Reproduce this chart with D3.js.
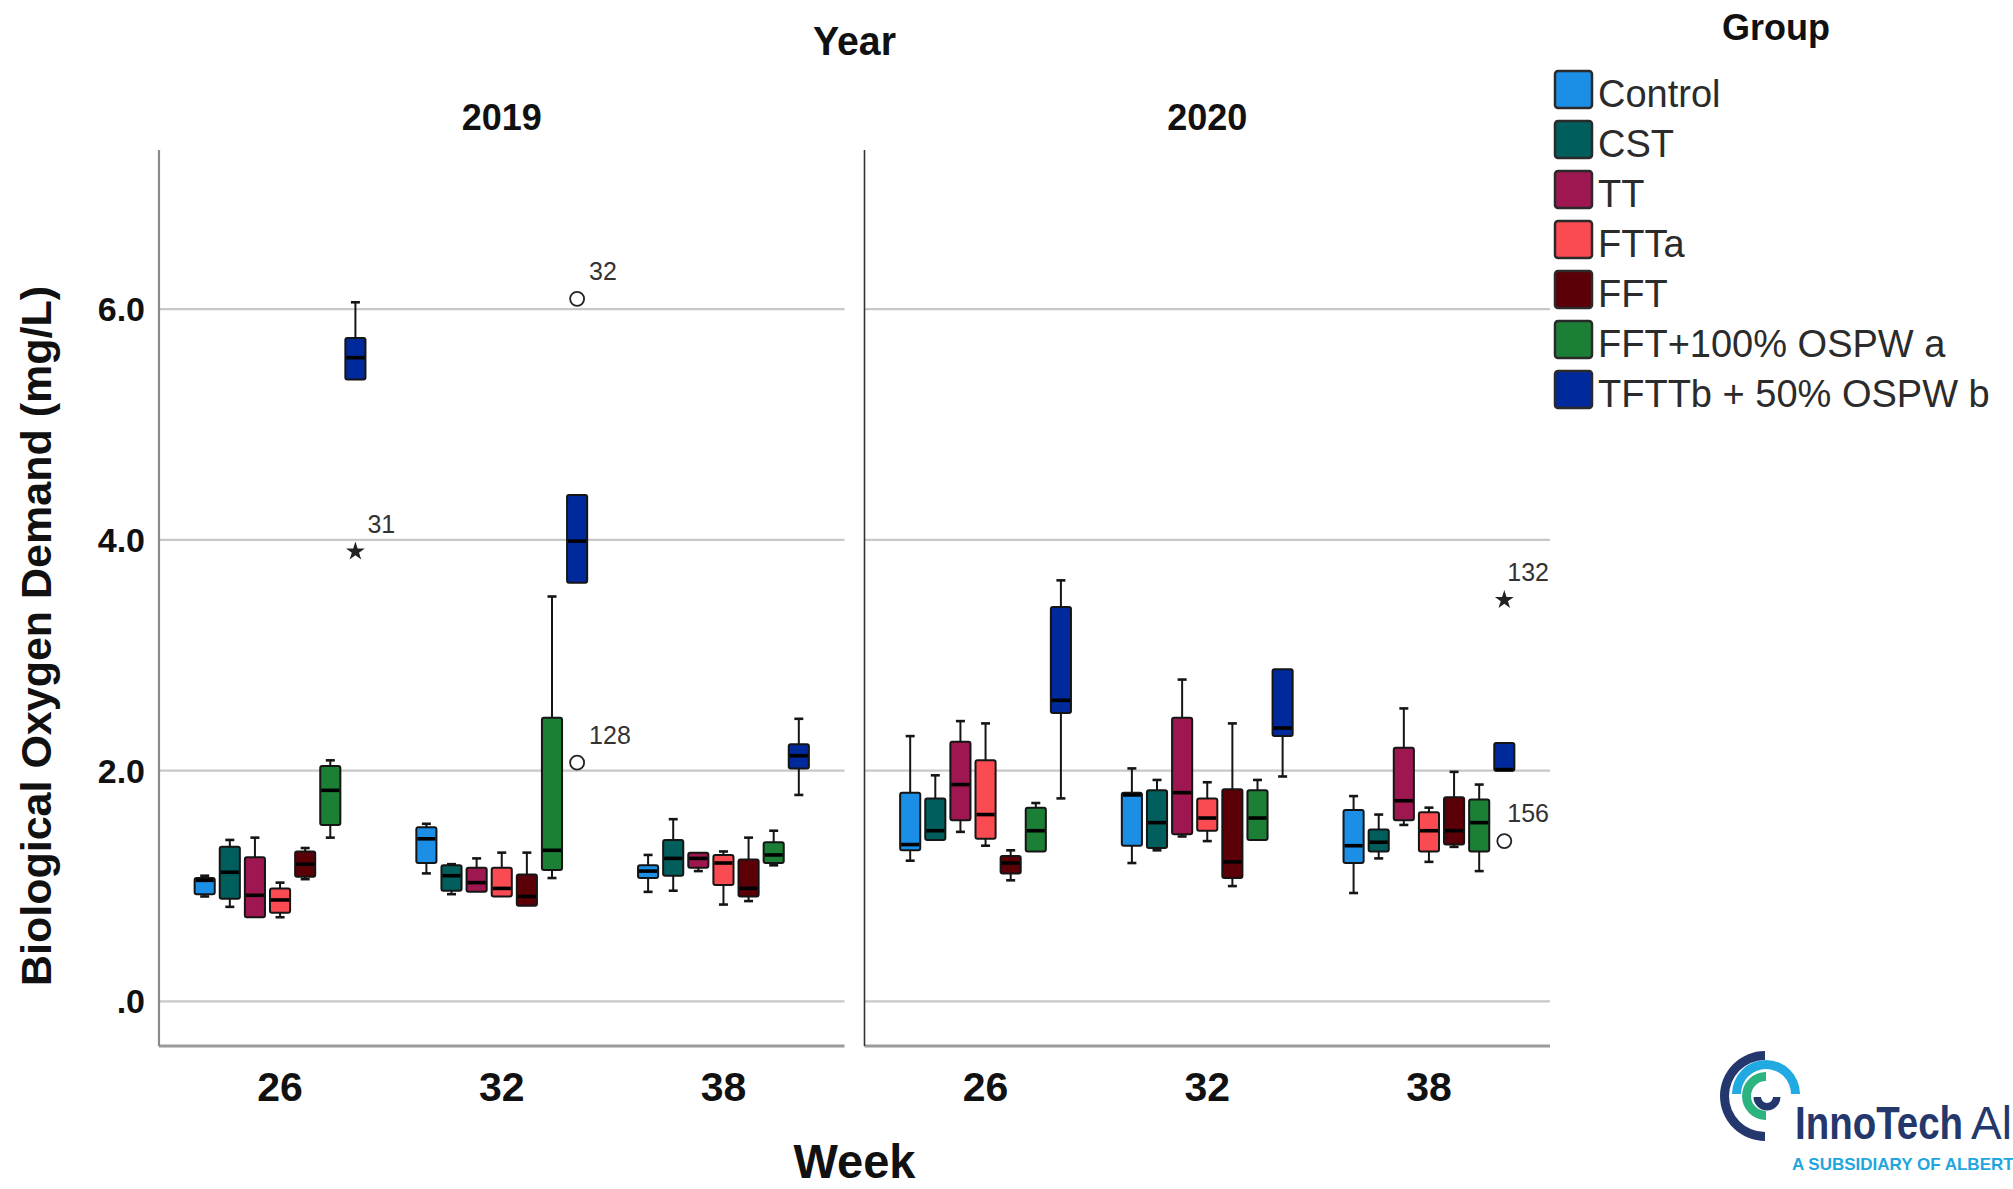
<!DOCTYPE html>
<html>
<head>
<meta charset="utf-8">
<script src="https://cdn.jsdelivr.net/npm/d3@7"></script>
<style>
  html, body { margin: 0; padding: 0; background: #fff; }
  svg { display: block; }
  text { font-family: "Liberation Sans", Arial, sans-serif; }
</style>
</head>
<body>
<svg id="chart" width="2013" height="1189"></svg>
<script>
// ---- data -------------------------------------------------------------
const years = ["2019", "2020"];
const weeks = ["26", "32", "38"];
const groups = ["Control", "CST", "TT", "FTTa", "FFT", "FFT+100% OSPW a", "TFTTb + 50% OSPW b"];
const groupColors = ["#1b8ee6", "#005f5c", "#9e1750", "#fa4a52", "#5c0008", "#1c7f36", "#002a9c"];
const yTicks = [0, 2, 4, 6];
const yTickLabels = [".0", "2.0", "4.0", "6.0"];

// BOD box statistics [low whisker, Q1, median, Q3, high whisker]
// order: 2019 wk26, 2019 wk32, 2019 wk38, 2020 wk26, 2020 wk32, 2020 wk38
const control = [
  [0.91, 0.93, 1.05, 1.07, 1.09], [1.11, 1.20, 1.41, 1.51, 1.54], [0.95, 1.07, 1.13, 1.18, 1.27],
  [1.22, 1.31, 1.36, 1.81, 2.30], [1.20, 1.35, 1.79, 1.81, 2.02], [0.94, 1.20, 1.35, 1.66, 1.78]
];
const cst = [
  [0.82, 0.89, 1.12, 1.34, 1.40], [0.93, 0.96, 1.09, 1.18, 1.19], [0.96, 1.09, 1.24, 1.40, 1.58],
  [1.40, 1.40, 1.48, 1.76, 1.96], [1.31, 1.33, 1.55, 1.83, 1.92], [1.24, 1.30, 1.38, 1.49, 1.62]
];
const tt = [
  [0.73, 0.73, 0.92, 1.25, 1.42], [0.95, 0.95, 1.03, 1.16, 1.24], [1.13, 1.16, 1.24, 1.29, 1.29],
  [1.47, 1.57, 1.88, 2.25, 2.43], [1.43, 1.45, 1.81, 2.46, 2.79], [1.53, 1.57, 1.74, 2.20, 2.54]
];
const ftta = [
  [0.73, 0.77, 0.88, 0.98, 1.03], [0.91, 0.91, 0.98, 1.16, 1.29], [0.84, 1.01, 1.20, 1.27, 1.30],
  [1.35, 1.41, 1.62, 2.09, 2.41], [1.39, 1.48, 1.59, 1.76, 1.90], [1.21, 1.30, 1.48, 1.64, 1.68]
];
const fft = [
  [1.06, 1.08, 1.19, 1.30, 1.33], [0.83, 0.83, 0.91, 1.10, 1.29], [0.87, 0.91, 0.98, 1.23, 1.42],
  [1.05, 1.11, 1.20, 1.26, 1.31], [1.00, 1.07, 1.21, 1.84, 2.41], [1.34, 1.36, 1.48, 1.77, 1.99]
];
const fftOspw100 = [
  [1.42, 1.53, 1.83, 2.04, 2.09], [1.07, 1.14, 1.31, 2.46, 3.51], [1.18, 1.20, 1.27, 1.38, 1.48],
  [1.30, 1.30, 1.48, 1.68, 1.72], [1.40, 1.40, 1.59, 1.83, 1.92], [1.13, 1.30, 1.55, 1.75, 1.88]
];
const tfttOspw50 = [
  [5.39, 5.39, 5.58, 5.75, 6.06], [3.63, 3.63, 3.99, 4.39, 4.39], [1.79, 2.02, 2.13, 2.23, 2.45],
  [1.76, 2.50, 2.61, 3.42, 3.65], [1.95, 2.30, 2.37, 2.88, 2.88], [2.00, 2.00, 2.01, 2.24, 2.24]
];
const seriesStats = [control, cst, tt, ftta, fft, fftOspw100, tfttOspw50];

// flagged cases: kind "o" = outlier, "*" = extreme
const outliers = [
  { year: "2019", week: "26", group: "TFTTb + 50% OSPW b", value: 3.90, kind: "*", id: "31" },
  { year: "2019", week: "32", group: "TFTTb + 50% OSPW b", value: 6.09, kind: "o", id: "32" },
  { year: "2019", week: "32", group: "TFTTb + 50% OSPW b", value: 2.07, kind: "o", id: "128" },
  { year: "2020", week: "38", group: "TFTTb + 50% OSPW b", value: 3.48, kind: "*", id: "132" },
  { year: "2020", week: "38", group: "TFTTb + 50% OSPW b", value: 1.39, kind: "o", id: "156" }
];

// ---- layout -----------------------------------------------------------
const svg = d3.select("#chart");
const plotTop = 150, plotBottom = 1046, plotLeft = 159, plotRight = 1550;

const y = d3.scaleLinear().domain([-0.386, 7.38]).range([plotBottom, plotTop]);
const xPanel = d3.scaleBand().domain(years).range([plotLeft, plotRight]).paddingInner(0.02835).paddingOuter(0);
const xWeek = d3.scaleBand().domain(weeks).range([0, xPanel.bandwidth()]).paddingInner(0).paddingOuter(0.046);
const xGroup = d3.scaleBand().domain(groups).range([0, xWeek.bandwidth()]).paddingInner(0.2).paddingOuter(1.0125);
const color = d3.scaleOrdinal().domain(groups).range(groupColors);

const boxes = [];
groups.forEach((g, gi) => {
  years.forEach((yr, yi) => {
    weeks.forEach((wk, wi) => {
      const s = seriesStats[gi][yi * weeks.length + wi];
      boxes.push({ group: g, year: yr, week: wk, lo: s[0], q1: s[1], med: s[2], q3: s[3], hi: s[4] });
    });
  });
});
const boxX = d => xPanel(d.year) + xWeek(d.week) + xGroup(d.group);

// ---- panels -----------------------------------------------------------
const panels = svg.append("g").selectAll("g").data(years).join("g");

panels.each(function (yr) {
  const x0 = xPanel(yr), x1 = x0 + xPanel.bandwidth();
  const p = d3.select(this);
  // gridlines
  p.selectAll("line.grid").data(yTicks).join("line")
    .attr("x1", x0).attr("x2", x1)
    .attr("y1", d => y(d)).attr("y2", d => y(d))
    .attr("stroke", "#c8c8c8").attr("stroke-width", 2.2);
  // bottom frame
  p.append("line")
    .attr("x1", x0).attr("x2", x1).attr("y1", plotBottom).attr("y2", plotBottom)
    .attr("stroke", "#9a9a9a").attr("stroke-width", 3);
  // left frame
  p.append("line")
    .attr("x1", x0).attr("x2", x0).attr("y1", plotTop).attr("y2", plotBottom)
    .attr("stroke", yr === years[0] ? "#8a8a8a" : "#333").attr("stroke-width", yr === years[0] ? 2.2 : 1.6);
  // year heading
  p.append("text")
    .attr("x", x0 + xPanel.bandwidth() / 2).attr("y", 130)
    .attr("text-anchor", "middle").attr("font-size", 36).attr("font-weight", "bold")
    .attr("fill", "#111").text(yr);
  // week ticks
  p.selectAll("text.week").data(weeks).join("text")
    .attr("class", "week")
    .attr("x", d => x0 + xWeek(d) + xWeek.bandwidth() / 2).attr("y", 1101)
    .attr("text-anchor", "middle").attr("font-size", 41).attr("font-weight", "bold")
    .attr("fill", "#111").text(d => d);
});

// y tick labels
svg.append("g").selectAll("text").data(yTicks).join("text")
  .attr("x", 145).attr("y", d => y(d) + 12)
  .attr("text-anchor", "end").attr("font-size", 34).attr("font-weight", "bold")
  .attr("fill", "#111").text((d, i) => yTickLabels[i]);

// ---- box plots --------------------------------------------------------
const bw = xGroup.bandwidth();
const capW = 9;
const gBox = svg.append("g");

const bx = gBox.selectAll("g").data(boxes).join("g")
  .attr("transform", d => `translate(${boxX(d)},0)`);

// whiskers
bx.filter(d => d.hi - d.q3 > 0.004).each(function (d) {
  const g = d3.select(this);
  g.append("line").attr("x1", bw / 2).attr("x2", bw / 2).attr("y1", y(d.q3)).attr("y2", y(d.hi))
    .attr("stroke", "#151515").attr("stroke-width", 2);
  g.append("line").attr("x1", bw / 2 - capW / 2).attr("x2", bw / 2 + capW / 2).attr("y1", y(d.hi)).attr("y2", y(d.hi))
    .attr("stroke", "#151515").attr("stroke-width", 2.6);
});
bx.filter(d => d.q1 - d.lo > 0.004).each(function (d) {
  const g = d3.select(this);
  g.append("line").attr("x1", bw / 2).attr("x2", bw / 2).attr("y1", y(d.q1)).attr("y2", y(d.lo))
    .attr("stroke", "#151515").attr("stroke-width", 2);
  g.append("line").attr("x1", bw / 2 - capW / 2).attr("x2", bw / 2 + capW / 2).attr("y1", y(d.lo)).attr("y2", y(d.lo))
    .attr("stroke", "#151515").attr("stroke-width", 2.6);
});

// boxes
bx.append("rect")
  .attr("x", 0).attr("width", bw)
  .attr("y", d => y(d.q3)).attr("height", d => Math.max(1, y(d.q1) - y(d.q3)))
  .attr("rx", 2).attr("ry", 2)
  .attr("fill", d => color(d.group))
  .attr("stroke", "#151515").attr("stroke-width", 2);

// medians
bx.append("line")
  .attr("x1", 1).attr("x2", bw - 1)
  .attr("y1", d => y(d.med)).attr("y2", d => y(d.med))
  .attr("stroke", "#000").attr("stroke-width", 3.6);

// ---- outliers ---------------------------------------------------------
const gOut = svg.append("g");
const outX = d => xPanel(d.year) + xWeek(d.week) + xGroup(d.group) + bw / 2;

gOut.selectAll("circle").data(outliers.filter(d => d.kind === "o")).join("circle")
  .attr("cx", outX).attr("cy", d => y(d.value)).attr("r", 7)
  .attr("fill", "none").attr("stroke", "#222").attr("stroke-width", 1.8);

gOut.selectAll("path").data(outliers.filter(d => d.kind === "*")).join("path")
  .attr("transform", d => `translate(${outX(d)},${y(d.value)})`)
  .attr("d", d3.symbol().type(d3.symbolStar).size(110))
  .attr("fill", "#222");

gOut.selectAll("text").data(outliers).join("text")
  .attr("font-size", 25).attr("fill", "#333")
  .attr("y", d => y(d.value) - 19)
  .text(d => d.id)
  .attr("x", function (d) {
    const right = xPanel(d.year) + xPanel.bandwidth();
    const w = this.getComputedTextLength();
    return Math.min(outX(d) + 12, right - w - 1);
  });

// ---- titles -----------------------------------------------------------
svg.append("text")
  .attr("x", (plotLeft + plotRight) / 2).attr("y", 55)
  .attr("text-anchor", "middle").attr("font-size", 40).attr("font-weight", "bold")
  .attr("fill", "#111").attr("textLength", 83).attr("lengthAdjust", "spacingAndGlyphs")
  .text("Year");

svg.append("text")
  .attr("x", (plotLeft + plotRight) / 2).attr("y", 1178)
  .attr("text-anchor", "middle").attr("font-size", 48).attr("font-weight", "bold")
  .attr("fill", "#111").attr("textLength", 122).attr("lengthAdjust", "spacingAndGlyphs")
  .text("Week");

svg.append("text")
  .attr("transform", "translate(51,636) rotate(-90)")
  .attr("text-anchor", "middle").attr("font-size", 43).attr("font-weight", "bold")
  .attr("fill", "#111").attr("textLength", 700).attr("lengthAdjust", "spacingAndGlyphs")
  .text("Biological Oxygen Demand (mg/L)");

// ---- legend -----------------------------------------------------------
const legend = svg.append("g");
legend.append("text")
  .attr("x", 1776).attr("y", 40).attr("text-anchor", "middle")
  .attr("font-size", 36).attr("font-weight", "bold").attr("fill", "#111")
  .text("Group");

const li = legend.selectAll("g.item").data(groups).join("g")
  .attr("transform", (d, i) => `translate(1555,${71 + i * 50})`);
li.append("rect").attr("width", 37).attr("height", 37).attr("rx", 3)
  .attr("fill", d => color(d)).attr("stroke", "#2a2a2a").attr("stroke-width", 2.5);
li.append("text").attr("x", 43).attr("y", 36)
  .attr("font-size", 38).attr("fill", "#2b2b2b").text(d => d);

// ---- logo -------------------------------------------------------------
const logo = svg.append("g");
const arc = d3.arc();
const logoArcs = [
  { cx: 1765, cy: 1096, r0: 36, r1: 45, a0: Math.PI, a1: 2 * Math.PI, fill: "#25386d" },
  { cx: 1766, cy: 1094, r0: 25, r1: 34, a0: -Math.PI / 2, a1: Math.PI / 2, fill: "#21a9e1" },
  { cx: 1766, cy: 1096, r0: 15, r1: 24, a0: Math.PI, a1: 2 * Math.PI, fill: "#2bb380" },
  { cx: 1767, cy: 1097, r0: 6, r1: 13.5, a0: Math.PI / 2, a1: 3 * Math.PI / 2, fill: "#25386d" }
];
logo.selectAll("path").data(logoArcs).join("path")
  .attr("transform", d => `translate(${d.cx},${d.cy})`)
  .attr("d", d => arc({ innerRadius: d.r0, outerRadius: d.r1, startAngle: d.a0, endAngle: d.a1 }))
  .attr("fill", d => d.fill);
logo.append("text")
  .attr("x", 1795).attr("y", 1139)
  .attr("font-family", "'Open Sans', sans-serif").attr("font-weight", 600)
  .attr("font-size", 46).attr("fill", "#25386d")
  .attr("textLength", 168).attr("lengthAdjust", "spacingAndGlyphs")
  .text("InnoTech");
logo.append("text")
  .attr("x", 1971).attr("y", 1139)
  .attr("font-family", "'Open Sans', sans-serif").attr("font-weight", 400)
  .attr("font-size", 46).attr("fill", "#25386d")
  .text("Alberta");
logo.append("text")
  .attr("x", 1792).attr("y", 1170)
  .attr("font-family", "'Open Sans', sans-serif").attr("font-weight", 600)
  .attr("font-size", 17).attr("fill", "#1fa6de")
  .text("A SUBSIDIARY OF ALBERTA INNOVATES");
</script>
</body>
</html>
